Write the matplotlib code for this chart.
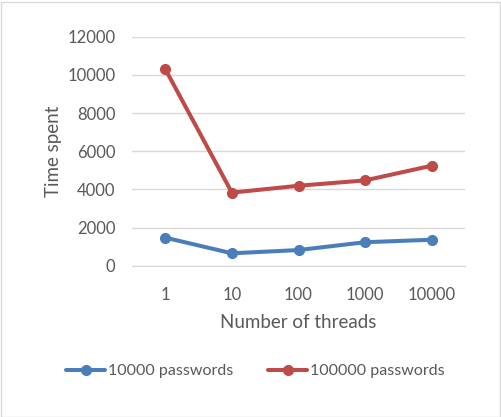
import matplotlib.pyplot as plt
from matplotlib.patches import Rectangle

# Dados do gráfico
threads = ["1", "10", "100", "1000", "10000"]
pw_10000 = [1470, 650, 820, 1230, 1360]
pw_100000 = [10300, 3830, 4190, 4470, 5240]

plt.rcParams['font.family'] = ['Lato', 'DejaVu Sans']
txt = '#595959'

fig = plt.figure(figsize=(5.01, 4.17), dpi=100)
ax = fig.add_axes([132 / 501, 1 - 265.7 / 417, 333 / 501, 229 / 417])

x = range(len(threads))
ax.plot(x, pw_10000, color='#4A7EBB', lw=2.9, marker='o', ms=7, label='10000 passwords',
        solid_capstyle='round')
ax.plot(x, pw_100000, color='#BE4B48', lw=2.9, marker='o', ms=7, label='100000 passwords',
        solid_capstyle='round')

ax.set_xlim(-0.5, len(threads) - 0.5)
ax.set_ylim(0, 12000)
ax.set_yticks(range(0, 12001, 2000))
ax.set_xticks(list(x))
ax.set_xticklabels(threads)
ax.yaxis.grid(True, color='#D9D9D9', lw=1)
ax.set_axisbelow(True)
for s in ['top', 'right', 'left']:
    ax.spines[s].set_visible(False)
ax.spines['bottom'].set_color('#D9D9D9')
ax.tick_params(length=0, labelsize=12, colors=txt)
ax.tick_params(axis='x', pad=15)
ax.tick_params(axis='y', pad=12)

ax.set_ylabel('Time spent', fontsize=13.5, color=txt, labelpad=4)
ax.set_xlabel('Number of threads', fontsize=13.5, color=txt, labelpad=8)

fig.legend(loc='center', bbox_to_anchor=(0.51, 1 - 371 / 417), ncol=2, frameon=False,
           fontsize=11.5, labelcolor=txt, handlelength=2.4, columnspacing=2.2, handletextpad=0.2)

# Borda externa do gráfico
fig.patches.append(Rectangle((0.5 / 501, 0.5 / 417), 499 / 501, 415 / 417, transform=fig.transFigure,
                             fill=False, edgecolor='#D9D9D9', lw=1))

fig.savefig('out.png', dpi=100)
